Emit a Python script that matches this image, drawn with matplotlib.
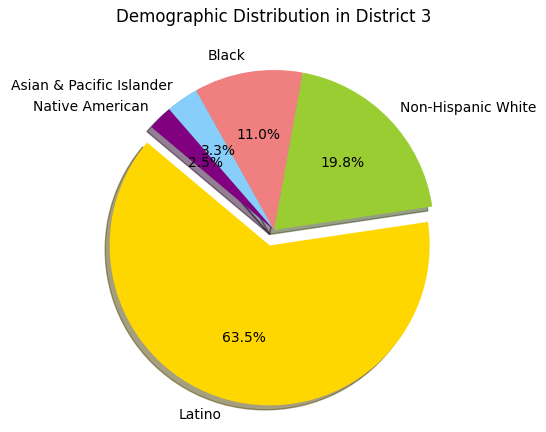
import matplotlib
matplotlib.use("Agg")
import matplotlib.pyplot as plt

# District 3 demographics (percent of population)
labels = ["Latino", "Non-Hispanic White", "Black", "Asian & Pacific Islander", "Native American"]
shares = [63.46, 19.79, 10.97, 3.28, 2.5]
colors = ["gold", "yellowgreen", "lightcoral", "lightskyblue", "purple"]
explode = (0.1, 0, 0, 0, 0)

fig = plt.figure(figsize=(5.46, 4.32), dpi=100)
ax = fig.add_axes([74 / 546, 2 / 432, 400 / 546, 400 / 432])

ax.pie(shares, explode=explode, labels=labels, colors=colors,
       autopct="%1.1f%%", shadow=True, startangle=140)
ax.axis("equal")
ax.set_xlim(-1.25, 1.25)
ax.set_ylim(-1.25, 1.25)
ax.set_title("Demographic Distribution in District 3")

fig.savefig("out.png", dpi=100)
